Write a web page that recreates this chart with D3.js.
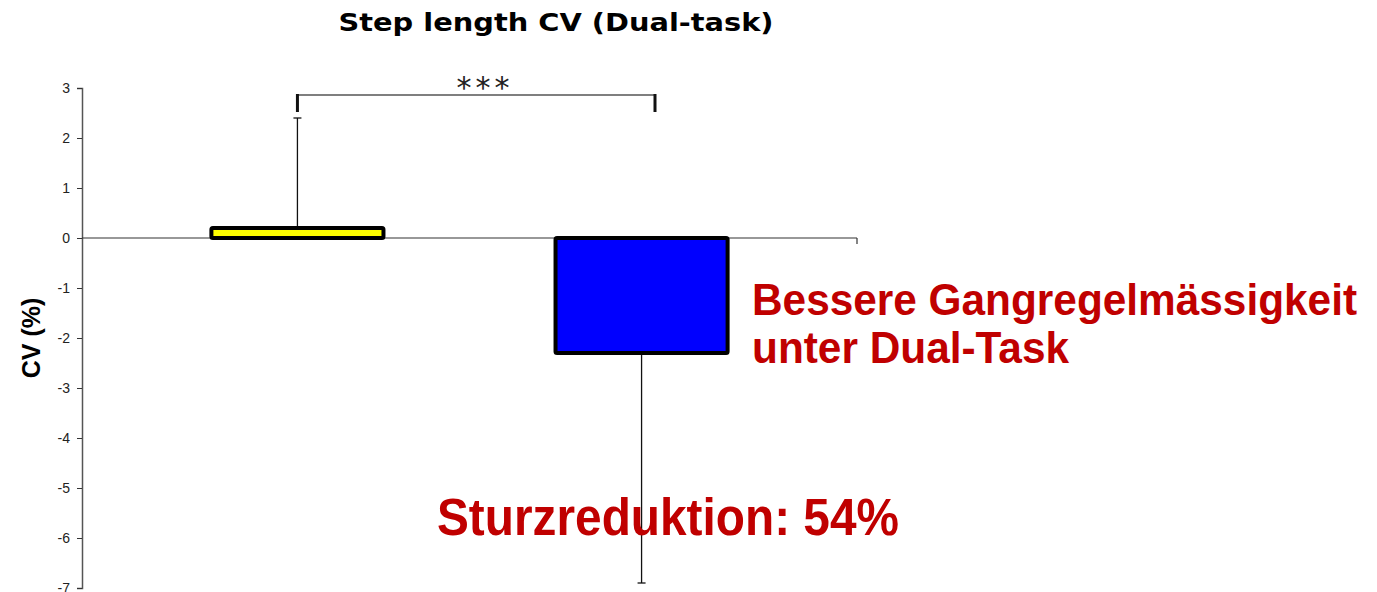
<!DOCTYPE html>
<html>
<head>
<meta charset="utf-8">
<script src="https://cdn.jsdelivr.net/npm/d3@7"></script>
<style>
  body { margin: 0; background: #fff; }
  svg { display: block; }
</style>
</head>
<body>
<svg></svg>
<script>
var width  = 1377,
    height = 592;

// data
var groups   = ["Control", "Intervention"];
var means    = [0.2, -2.3];
var errEnds  = [2.4, -6.9];
var colors   = ["#ffff00", "#0000ff"];
var yTicks   = [3, 2, 1, 0, -1, -2, -3, -4, -5, -6, -7];

var svg = d3.select("svg")
  .attr("width", width)
  .attr("height", height);

var x = d3.scaleBand()
  .domain(groups)
  .range([82, 857])
  .paddingInner(0.5)
  .paddingOuter(0.376);

var y = d3.scaleLinear()
  .domain([-7, 3])
  .range([588, 88]);

// title
svg.append("text")
  .attr("x", 556).attr("y", 31)
  .attr("text-anchor", "middle")
  .attr("font-family", "DejaVu Sans")
  .attr("font-weight", "bold")
  .attr("font-size", 24)
  .attr("textLength", 435)
  .attr("lengthAdjust", "spacingAndGlyphs")
  .text("Step length CV (Dual-task)");

// y axis (plain hyphen for negatives, like the original)
var yAxis = svg.append("g")
  .attr("transform", "translate(82,0)")
  .call(d3.axisLeft(y).tickValues(yTicks).tickSize(5).tickPadding(7)
    .tickFormat(function(d) { return String(d); }));
yAxis.select(".domain").attr("stroke", "#555").attr("stroke-width", 1.5);
yAxis.selectAll(".tick line").attr("stroke", "#333");
yAxis.selectAll(".tick text")
  .attr("font-family", "Liberation Sans, Arial")
  .attr("font-size", 14)
  .attr("fill", "#222");

// y label
svg.append("text")
  .attr("transform", "translate(40," + 338 + ") rotate(-90)")
  .attr("text-anchor", "middle")
  .attr("font-family", "Liberation Sans, Arial")
  .attr("font-weight", "bold")
  .attr("font-size", 25)
  .text("CV (%)");

// zero line
svg.append("line")
  .attr("x1", 82).attr("x2", 857)
  .attr("y1", y(0)).attr("y2", y(0))
  .attr("stroke", "#333").attr("stroke-width", 1.2);
svg.append("line")
  .attr("x1", 857).attr("x2", 857)
  .attr("y1", y(0)).attr("y2", y(0) + 6)
  .attr("stroke", "#333").attr("stroke-width", 1.2);

// error bars
var err = svg.append("g");
groups.forEach(function(g, i) {
  var cx = x(g) + x.bandwidth() / 2;
  err.append("line")
    .attr("x1", cx).attr("x2", cx)
    .attr("y1", y(means[i])).attr("y2", y(errEnds[i]))
    .attr("stroke", "#111").attr("stroke-width", 1.3);
  err.append("line")
    .attr("x1", cx - 4).attr("x2", cx + 4)
    .attr("y1", y(errEnds[i])).attr("y2", y(errEnds[i]))
    .attr("stroke", "#111").attr("stroke-width", 1.3);
});

// bars
svg.append("g").selectAll("rect")
  .data(groups)
  .enter()
    .append("rect")
    .attr("x", function(d) { return x(d); })
    .attr("width", x.bandwidth())
    .attr("y", function(d, i) { return y(Math.max(0, means[i])); })
    .attr("height", function(d, i) { return Math.abs(y(means[i]) - y(0)); })
    .attr("fill", function(d, i) { return colors[i]; })
    .attr("stroke", "#000")
    .attr("stroke-width", 4)
    .attr("rx", 1.5);

// significance bracket
var bx1 = x(groups[0]) + x.bandwidth() / 2,
    bx2 = 655,
    by  = 95;
svg.append("line")
  .attr("x1", bx1).attr("x2", bx2).attr("y1", by).attr("y2", by)
  .attr("stroke", "#555").attr("stroke-width", 1.3);
[bx1, bx2].forEach(function(bx) {
  svg.append("line")
    .attr("x1", bx).attr("x2", bx).attr("y1", by - 1).attr("y2", by + 17)
    .attr("stroke", "#111").attr("stroke-width", 3);
});
svg.append("text")
  .attr("x", 485).attr("y", 98)
  .attr("text-anchor", "middle")
  .attr("font-family", "DejaVu Sans")
  .attr("font-size", 30)
  .attr("letter-spacing", 4)
  .attr("fill", "#222")
  .text("***");

// annotations
var red = "#c00000";
svg.append("text")
  .attr("x", 752).attr("y", 315)
  .attr("font-family", "Liberation Sans, Arial")
  .attr("font-weight", "bold")
  .attr("font-size", 44)
  .attr("fill", red)
  .attr("textLength", 605)
  .attr("lengthAdjust", "spacingAndGlyphs")
  .text("Bessere Gangregelmässigkeit");
svg.append("text")
  .attr("x", 752).attr("y", 363)
  .attr("font-family", "Liberation Sans, Arial")
  .attr("font-weight", "bold")
  .attr("font-size", 44)
  .attr("fill", red)
  .attr("textLength", 317)
  .attr("lengthAdjust", "spacingAndGlyphs")
  .text("unter Dual-Task");
svg.append("text")
  .attr("x", 437).attr("y", 535)
  .attr("font-family", "Liberation Sans, Arial")
  .attr("font-weight", "bold")
  .attr("font-size", 51)
  .attr("fill", red)
  .attr("textLength", 462)
  .attr("lengthAdjust", "spacingAndGlyphs")
  .text("Sturzreduktion: 54%");
</script>
</body>
</html>
